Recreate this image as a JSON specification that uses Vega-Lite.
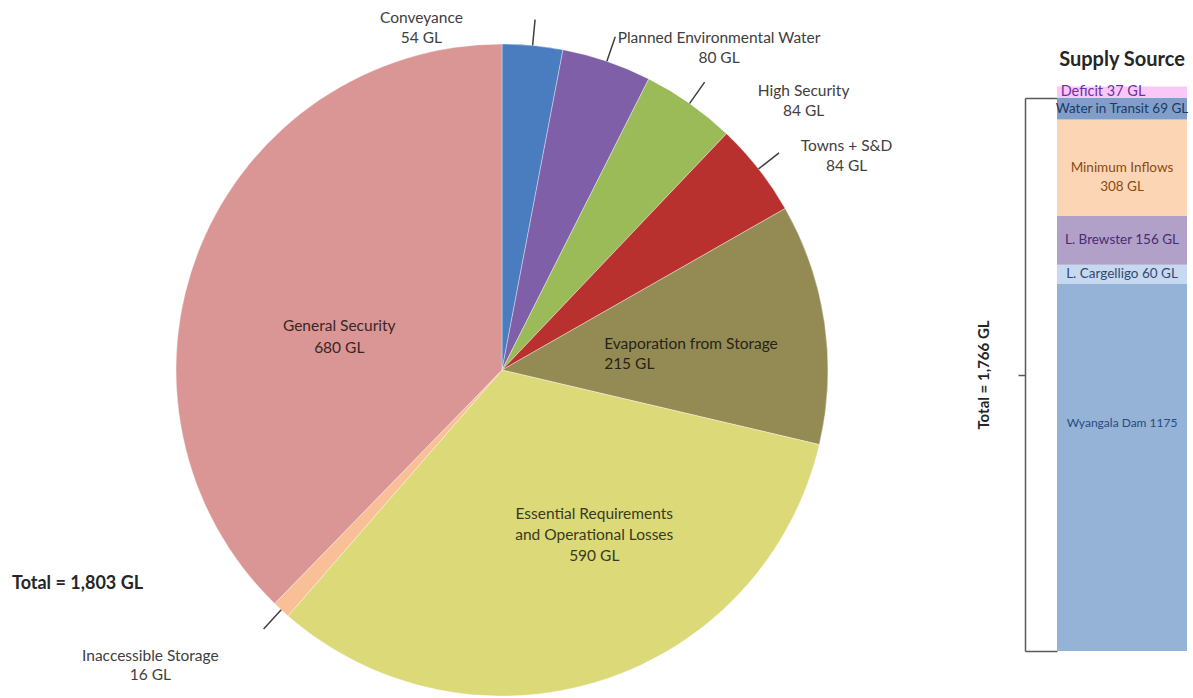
{
  "$schema": "https://vega.github.io/schema/vega-lite/v6.json",
  "padding": {"left": 12, "top": 10, "right": 0, "bottom": 0},
  "bounds": "flush",
  "spacing": 65,
  "config": {"view": {"stroke": null}, "font": "Lato"},
  "hconcat": [
    {
      "width": 980,
      "height": 544,
      "title": {"text": "Total = 1,803 GL", "orient": "bottom", "frame": "group", "anchor": "start", "offset": -130, "fontSize": 18, "fontWeight": "bold", "color": "#262626", "font": "Lato"},
      "data": {"values": [
        {"category": "Conveyance", "value": 54, "order": 1, "label": "Conveyance\n54 GL"},
        {"category": "Planned Environmental Water", "value": 80, "order": 2, "label": "Planned Environmental Water\n80 GL"},
        {"category": "High Security", "value": 84, "order": 3, "label": "High Security\n84 GL"},
        {"category": "Towns + S&D", "value": 84, "order": 4, "label": "Towns + S&D\n84 GL"},
        {"category": "Evaporation from Storage", "value": 215, "order": 5, "label": "Evaporation from Storage\n215 GL"},
        {"category": "Essential Requirements and Operational Losses", "value": 590, "order": 6, "label": "Essential Requirements\nand Operational Losses\n590 GL"},
        {"category": "Inaccessible Storage", "value": 16, "order": 7, "label": "Inaccessible Storage\n16 GL"},
        {"category": "General Security", "value": 680, "order": 8, "label": "General Security\n680 GL"}
      ]},
      "layer": [
        {
          "mark": {"type": "arc", "radius": 326, "stroke": "#ffffff", "strokeWidth": 0.6, "strokeOpacity": 0.6},
          "encoding": {
            "theta": {"field": "value", "type": "quantitative", "stack": true, "scale": {"nice": false}},
            "order": {"field": "order", "type": "quantitative"},
            "color": {"field": "category", "type": "nominal", "legend": null,
              "scale": {
                "domain": ["Conveyance", "Planned Environmental Water", "High Security", "Towns + S&D", "Evaporation from Storage", "Essential Requirements and Operational Losses", "Inaccessible Storage", "General Security"],
                "range": ["#4a7dc0", "#7f5fa8", "#9bbb59", "#b8312f", "#948a54", "#dcd979", "#f9bf97", "#d99694"]
              }}
          }
        },
        {
          "mark": {"type": "arc", "radius": 352, "radius2": 326, "padAngle": 1.4, "fillOpacity": 0, "stroke": "#404040", "strokeWidth": 1.5},
          "encoding": {
            "theta": {"field": "value", "type": "quantitative", "stack": true, "scale": {"nice": false}},
            "order": {"field": "order", "type": "quantitative"},
            "strokeOpacity": {"condition": {"test": "indexof(['Conveyance','Planned Environmental Water','High Security','Towns + S&D','Inaccessible Storage'], datum.category) >= 0", "value": 1}, "value": 0}
          }
        },
        {
          "transform": [
            {"stack": "value", "groupby": [], "sort": [{"field": "order", "order": "ascending"}], "as": ["t0", "t1"]},
            {"fold": ["t0", "t1"], "as": ["k", "v"]},
            {"aggregate": [{"op": "mean", "field": "v", "as": "mid"}], "groupby": ["category", "label"]},
            {"filter": "datum.category === 'Conveyance'"}
          ],
          "mark": {"type": "text", "radius": 345, "dx": -113, "dy": -9, "align": "center", "baseline": "middle", "fontSize": 15.5, "lineHeight": 20, "lineBreak": "\n", "color": "#404040"},
          "encoding": {
            "theta": {"field": "mid", "type": "quantitative", "stack": null, "scale": {"nice": false}},
            "text": {"field": "label"}
          }
        },
        {
          "transform": [
            {"stack": "value", "groupby": [], "sort": [{"field": "order", "order": "ascending"}], "as": ["t0", "t1"]},
            {"fold": ["t0", "t1"], "as": ["k", "v"]},
            {"aggregate": [{"op": "mean", "field": "v", "as": "mid"}], "groupby": ["category", "label"]},
            {"filter": "datum.category === 'Planned Environmental Water'"}
          ],
          "mark": {"type": "text", "radius": 345, "dx": 106, "dy": -5, "align": "center", "baseline": "middle", "fontSize": 15.5, "lineHeight": 20, "lineBreak": "\n", "color": "#404040"},
          "encoding": {
            "theta": {"field": "mid", "type": "quantitative", "stack": null, "scale": {"nice": false}},
            "text": {"field": "label"}
          }
        },
        {
          "transform": [
            {"stack": "value", "groupby": [], "sort": [{"field": "order", "order": "ascending"}], "as": ["t0", "t1"]},
            {"fold": ["t0", "t1"], "as": ["k", "v"]},
            {"aggregate": [{"op": "mean", "field": "v", "as": "mid"}], "groupby": ["category", "label"]},
            {"filter": "datum.category === 'High Security'"}
          ],
          "mark": {"type": "text", "radius": 345, "dx": 103, "dy": 3, "align": "center", "baseline": "middle", "fontSize": 15.5, "lineHeight": 20, "lineBreak": "\n", "color": "#404040"},
          "encoding": {
            "theta": {"field": "mid", "type": "quantitative", "stack": null, "scale": {"nice": false}},
            "text": {"field": "label"}
          }
        },
        {
          "transform": [
            {"stack": "value", "groupby": [], "sort": [{"field": "order", "order": "ascending"}], "as": ["t0", "t1"]},
            {"fold": ["t0", "t1"], "as": ["k", "v"]},
            {"aggregate": [{"op": "mean", "field": "v", "as": "mid"}], "groupby": ["category", "label"]},
            {"filter": "datum.category === 'Towns + S&D'"}
          ],
          "mark": {"type": "text", "radius": 345, "dx": 73, "dy": -11, "align": "center", "baseline": "middle", "fontSize": 15.5, "lineHeight": 20, "lineBreak": "\n", "color": "#404040"},
          "encoding": {
            "theta": {"field": "mid", "type": "quantitative", "stack": null, "scale": {"nice": false}},
            "text": {"field": "label"}
          }
        },
        {
          "transform": [
            {"stack": "value", "groupby": [], "sort": [{"field": "order", "order": "ascending"}], "as": ["t0", "t1"]},
            {"fold": ["t0", "t1"], "as": ["k", "v"]},
            {"aggregate": [{"op": "mean", "field": "v", "as": "mid"}], "groupby": ["category", "label"]},
            {"filter": "datum.category === 'Inaccessible Storage'"}
          ],
          "mark": {"type": "text", "radius": 345, "dx": -118, "dy": 32, "align": "center", "baseline": "middle", "fontSize": 15.5, "lineHeight": 19, "lineBreak": "\n", "color": "#404040"},
          "encoding": {
            "theta": {"field": "mid", "type": "quantitative", "stack": null, "scale": {"nice": false}},
            "text": {"field": "label"}
          }
        },
        {
          "transform": [
            {"stack": "value", "groupby": [], "sort": [{"field": "order", "order": "ascending"}], "as": ["t0", "t1"]},
            {"fold": ["t0", "t1"], "as": ["k", "v"]},
            {"aggregate": [{"op": "mean", "field": "v", "as": "mid"}], "groupby": ["category", "label"]},
            {"filter": "datum.category === 'General Security'"}
          ],
          "mark": {"type": "text", "radius": 180, "dx": 4, "dy": 24, "align": "center", "baseline": "middle", "fontSize": 15.5, "lineHeight": 22, "lineBreak": "\n", "color": "#3a2626"},
          "encoding": {
            "theta": {"field": "mid", "type": "quantitative", "stack": null, "scale": {"nice": false}},
            "text": {"field": "label"}
          }
        },
        {
          "transform": [
            {"stack": "value", "groupby": [], "sort": [{"field": "order", "order": "ascending"}], "as": ["t0", "t1"]},
            {"fold": ["t0", "t1"], "as": ["k", "v"]},
            {"aggregate": [{"op": "mean", "field": "v", "as": "mid"}], "groupby": ["category", "label"]},
            {"filter": "datum.category === 'Evaporation from Storage'"}
          ],
          "mark": {"type": "text", "radius": 180, "dx": -76, "dy": 0, "align": "left", "baseline": "middle", "fontSize": 15.5, "lineHeight": 20, "lineBreak": "\n", "color": "#26241a"},
          "encoding": {
            "theta": {"field": "mid", "type": "quantitative", "stack": null, "scale": {"nice": false}},
            "text": {"field": "label"}
          }
        },
        {
          "transform": [
            {"stack": "value", "groupby": [], "sort": [{"field": "order", "order": "ascending"}], "as": ["t0", "t1"]},
            {"fold": ["t0", "t1"], "as": ["k", "v"]},
            {"aggregate": [{"op": "mean", "field": "v", "as": "mid"}], "groupby": ["category", "label"]},
            {"filter": "datum.category === 'Essential Requirements and Operational Losses'"}
          ],
          "mark": {"type": "text", "radius": 180, "dx": 37, "dy": -27, "align": "center", "baseline": "middle", "fontSize": 15.5, "lineHeight": 21, "lineBreak": "\n", "color": "#3a3a1e"},
          "encoding": {
            "theta": {"field": "mid", "type": "quantitative", "stack": null, "scale": {"nice": false}},
            "text": {"field": "label"}
          }
        }
      ]
    },
    {
      "width": 130,
      "height": 553,
      "title": {"text": "Supply Source", "fontSize": 20, "fontWeight": "bold", "color": "#262626", "offset": 14, "anchor": "middle", "font": "Lato"},
      "data": {"values": [
        {"source": "Supply", "segment": "Wyangala Dam", "value": 1175, "order": 1, "label": "Wyangala Dam 1175"},
        {"source": "Supply", "segment": "L. Cargelligo", "value": 60, "order": 2, "label": "L. Cargelligo 60 GL"},
        {"source": "Supply", "segment": "L. Brewster", "value": 156, "order": 3, "label": "L. Brewster 156 GL"},
        {"source": "Supply", "segment": "Minimum Inflows", "value": 308, "order": 4, "label": "Minimum Inflows\n308 GL"},
        {"source": "Supply", "segment": "Water in Transit", "value": 69, "order": 5, "label": "Water in Transit 69 GL"},
        {"source": "Supply", "segment": "Deficit", "value": 37, "order": 6, "label": "Deficit 37 GL"}
      ]},
      "layer": [
        {
          "transform": [{"stack": "value", "groupby": ["source"], "sort": [{"field": "order", "order": "ascending"}], "as": ["y0", "y1"]}],
          "mark": {"type": "bar"},
          "encoding": {
            "x": {"field": "source", "type": "nominal", "axis": null, "scale": {"paddingInner": 0, "paddingOuter": 0}},
            "y": {"field": "y0", "type": "quantitative", "scale": {"domain": [0, 1768], "nice": false, "zero": true},
              "axis": {"orient": "left", "offset": 32, "values": [0, 884, 1768], "labels": false, "grid": false,
                "domain": true, "domainColor": "#595959", "domainWidth": 1.5,
                "ticks": true, "tickColor": "#595959", "tickWidth": 1.5,
                "tickSize": {"condition": {"test": "datum.value === 884", "value": 7}, "value": -32},
                "title": "Total = 1,766 GL", "titleFontSize": 15, "titleFontWeight": "bold", "titleColor": "#262626", "titlePadding": 26, "titleFont": "Lato"}},
            "y2": {"field": "y1"},
            "color": {"field": "segment", "type": "nominal", "legend": null,
              "scale": {"domain": ["Wyangala Dam", "L. Cargelligo", "L. Brewster", "Minimum Inflows", "Water in Transit", "Deficit"],
                "range": ["#95b3d7", "#c6d9f0", "#b1a0c7", "#fcd5b4", "#7f9fca", "#f9c8f7"]}}
          }
        },
        {
          "transform": [
            {"stack": "value", "groupby": ["source"], "sort": [{"field": "order", "order": "ascending"}], "as": ["y0", "y1"]},
            {"fold": ["y0", "y1"], "as": ["k", "v"]},
            {"aggregate": [{"op": "mean", "field": "v", "as": "mid"}], "groupby": ["source", "segment", "label"]},
            {"filter": "datum.segment !== 'Deficit' && datum.segment !== 'Wyangala Dam'"}
          ],
          "mark": {"type": "text", "fontSize": 13.5, "lineHeight": 19, "lineBreak": "\n", "align": "center", "baseline": "middle"},
          "encoding": {
            "x": {"field": "source", "type": "nominal", "axis": null},
            "y": {"field": "mid", "type": "quantitative",
              "axis": {"orient": "left", "offset": 32, "values": [0, 884, 1768], "labels": false, "grid": false,
                "domain": true, "domainColor": "#595959", "domainWidth": 1.5,
                "ticks": true, "tickColor": "#595959", "tickWidth": 1.5,
                "tickSize": {"condition": {"test": "datum.value === 884", "value": 7}, "value": -32},
                "title": "Total = 1,766 GL", "titleFontSize": 15, "titleFontWeight": "bold", "titleColor": "#262626", "titlePadding": 26, "titleFont": "Lato"}},
            "text": {"field": "label"},
            "color": {"field": "segment", "type": "nominal", "legend": null,
              "scale": {"domain": ["L. Cargelligo", "L. Brewster", "Minimum Inflows", "Water in Transit"],
                "range": ["#34486e", "#4b2a78", "#8a4a12", "#1f3864"]}}
          }
        },
        {
          "transform": [
            {"stack": "value", "groupby": ["source"], "sort": [{"field": "order", "order": "ascending"}], "as": ["y0", "y1"]},
            {"fold": ["y0", "y1"], "as": ["k", "v"]},
            {"aggregate": [{"op": "mean", "field": "v", "as": "mid"}], "groupby": ["source", "segment", "label"]},
            {"filter": "datum.segment === 'Deficit'"}
          ],
          "mark": {"type": "text", "fontSize": 14.5, "align": "center", "baseline": "middle", "dx": -19, "color": "#7030a0"},
          "encoding": {
            "x": {"field": "source", "type": "nominal", "axis": null},
            "y": {"field": "mid", "type": "quantitative",
              "axis": {"orient": "left", "offset": 32, "values": [0, 884, 1768], "labels": false, "grid": false,
                "domain": true, "domainColor": "#595959", "domainWidth": 1.5,
                "ticks": true, "tickColor": "#595959", "tickWidth": 1.5,
                "tickSize": {"condition": {"test": "datum.value === 884", "value": 7}, "value": -32},
                "title": "Total = 1,766 GL", "titleFontSize": 15, "titleFontWeight": "bold", "titleColor": "#262626", "titlePadding": 26, "titleFont": "Lato"}},
            "text": {"field": "label"}
          }
        },
        {
          "transform": [
            {"stack": "value", "groupby": ["source"], "sort": [{"field": "order", "order": "ascending"}], "as": ["y0", "y1"]},
            {"fold": ["y0", "y1"], "as": ["k", "v"]},
            {"aggregate": [{"op": "mean", "field": "v", "as": "mid"}], "groupby": ["source", "segment", "label"]},
            {"filter": "datum.segment === 'Wyangala Dam'"}
          ],
          "mark": {"type": "text", "fontSize": 12, "align": "center", "baseline": "middle", "dy": -44, "color": "#2a4a80"},
          "encoding": {
            "x": {"field": "source", "type": "nominal", "axis": null},
            "y": {"field": "mid", "type": "quantitative",
              "axis": {"orient": "left", "offset": 32, "values": [0, 884, 1768], "labels": false, "grid": false,
                "domain": true, "domainColor": "#595959", "domainWidth": 1.5,
                "ticks": true, "tickColor": "#595959", "tickWidth": 1.5,
                "tickSize": {"condition": {"test": "datum.value === 884", "value": 7}, "value": -32},
                "title": "Total = 1,766 GL", "titleFontSize": 15, "titleFontWeight": "bold", "titleColor": "#262626", "titlePadding": 26, "titleFont": "Lato"}},
            "text": {"field": "label"}
          }
        }
      ],
      "resolve": {"scale": {"color": "independent"}}
    }
  ]
}
